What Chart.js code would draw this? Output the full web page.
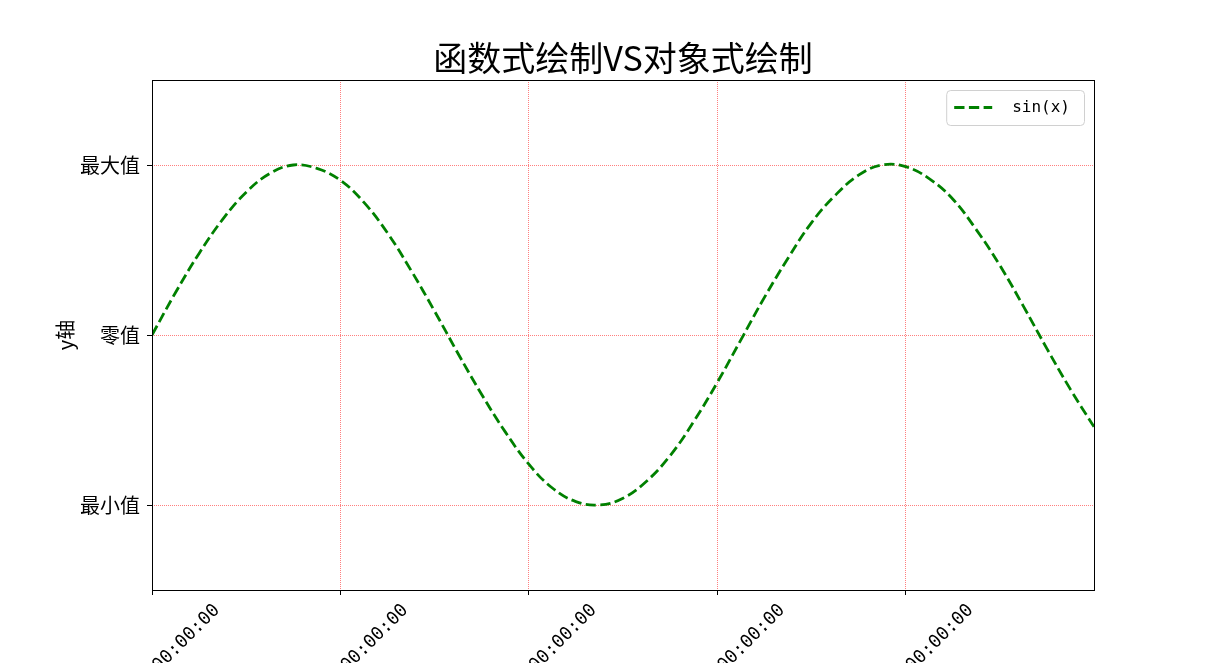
<!DOCTYPE html>
<html>
<head>
<meta charset="utf-8">
<script src="https://cdn.jsdelivr.net/npm/chart.js@4.4.0/dist/chart.umd.min.js"></script>
<style>
  html, body { margin: 0; padding: 0; background: #fff; }
  #wrap { width: 1216px; height: 663px; }
</style>
</head>
<body>
<div id="wrap"><canvas id="chart"></canvas></div>
<script>
const titleText = "函数式绘制VS对象式绘制";
const seriesLabel = "sin(x)";
const yAxisLabel = "y轴";

// values, every 0.25 on x
const xValues = [
  0, 0.25, 0.5, 0.75, 1, 1.25, 1.5, 1.75, 2, 2.25, 2.5, 2.75, 3, 3.25, 3.5, 3.75,
  4, 4.25, 4.5, 4.75, 5, 5.25, 5.5, 5.75, 6, 6.25, 6.5, 6.75, 7, 7.25, 7.5, 7.75,
  8, 8.25, 8.5, 8.75, 9, 9.25, 9.5, 9.75, 10
];
const yValues = [
  0, 0.25, 0.48, 0.68, 0.84, 0.95, 1.0, 0.98, 0.91, 0.78, 0.6, 0.38, 0.14, -0.11, -0.35, -0.57,
  -0.76, -0.9, -0.98, -1.0, -0.96, -0.86, -0.71, -0.51, -0.28, -0.03, 0.22, 0.45, 0.66, 0.82, 0.94, 1.0,
  0.99, 0.92, 0.8, 0.62, 0.41, 0.17, -0.08, -0.32, -0.54
];

const xTickValues = [0, 2, 4, 6, 8];
const xTickLabels = [
  "1970-01-01 00:00:00", "1970-01-03 00:00:00", "1970-01-05 00:00:00",
  "1970-01-07 00:00:00", "1970-01-09 00:00:00"
];
const yTickValues = [-1, 0, 1];
const yTickLabels = ["最小值", "零值", "最大值"];

const gridColor = "rgba(255,0,0,0.5)";

// spines, title and the in-plot legend
const decorations = {
  id: "decorations",
  afterDraw(chart) {
    const { ctx, chartArea: a } = chart;
    ctx.save();

    ctx.strokeStyle = "#000";
    ctx.lineWidth = 1;
    ctx.setLineDash([]);
    const l = Math.round(a.left) + 0.5, t = Math.round(a.top) + 0.5;
    const r = Math.round(a.right) + 0.5, b = Math.round(a.bottom) + 0.5;
    ctx.strokeRect(l, t, r - l, b - t);

    ctx.fillStyle = "#000";
    ctx.font = '34px "Noto Sans CJK SC"';
    ctx.textAlign = "center";
    ctx.textBaseline = "alphabetic";
    ctx.fillText(titleText, (a.left + a.right) / 2, 71);

    // legend
    const ds = chart.data.datasets[0];
    ctx.font = '16px "DejaVu Sans Mono"';
    const tw = ctx.measureText(ds.label).width;
    const w = 8 + 38 + 20 + tw + 14;
    const h = 35;
    const bx = a.right - 10 - w;
    const by = a.top + 10;
    ctx.beginPath();
    if (ctx.roundRect) ctx.roundRect(bx + 0.5, by + 0.5, w, h, 4);
    else ctx.rect(bx + 0.5, by + 0.5, w, h);
    ctx.fillStyle = "rgba(255,255,255,0.8)";
    ctx.fill();
    ctx.strokeStyle = "#d0d0d0";
    ctx.stroke();

    const ly = by + h / 2;
    ctx.beginPath();
    ctx.setLineDash(ds.borderDash);
    ctx.strokeStyle = ds.borderColor;
    ctx.lineWidth = ds.borderWidth;
    ctx.moveTo(bx + 8, ly);
    ctx.lineTo(bx + 8 + 38, ly);
    ctx.stroke();
    ctx.setLineDash([]);

    ctx.fillStyle = "#000";
    ctx.textAlign = "left";
    ctx.textBaseline = "middle";
    ctx.fillText(ds.label, bx + 8 + 38 + 20, ly);

    ctx.restore();
  }
};

new Chart(document.getElementById("chart"), {
  type: "line",
  data: {
    datasets: [{
      label: seriesLabel,
      data: xValues.map((x, i) => ({ x: x, y: yValues[i] })),
      borderColor: "#008000",
      borderWidth: 2.8,
      borderDash: [10.3, 4.4],
      pointRadius: 0,
      fill: false,
      tension: 0.4
    }]
  },
  options: {
    responsive: true,
    maintainAspectRatio: false,
    animation: false,
    layout: { padding: { top: 80, right: 122, left: 0, bottom: 0 } },
    plugins: {
      legend: { display: false },
      title: { display: false },
      tooltip: { enabled: false }
    },
    scales: {
      x: {
        type: "linear",
        min: 0,
        max: 10,
        afterBuildTicks: s => { s.ticks = xTickValues.map(v => ({ value: v })); },
        afterFit: s => { s.height = 73; s.paddingLeft = 0; s.paddingRight = 0; },
        ticks: {
          autoSkip: false,
          minRotation: 45,
          maxRotation: 45,
          labelOffset: 65,
          padding: 5,
          color: "#000",
          font: { family: "DejaVu Sans Mono", size: 18 },
          callback: v => {
            const i = xTickValues.indexOf(v);
            return i >= 0 ? xTickLabels[i] : "";
          }
        },
        grid: {
          color: gridColor,
          lineWidth: 1,
          tickColor: "#000",
          tickLength: 5,
          tickWidth: 1,
          tickBorderDash: []
        },
        border: { display: false, dash: [1, 1] }
      },
      y: {
        type: "linear",
        min: -1.5,
        max: 1.5,
        afterBuildTicks: s => { s.ticks = yTickValues.map(v => ({ value: v })); },
        afterFit: s => { s.width = 152; },
        ticks: {
          padding: 7,
          color: "#000",
          font: { family: "Noto Sans CJK SC", size: 20 },
          callback: v => {
            const i = yTickValues.indexOf(v);
            return i >= 0 ? yTickLabels[i] : "";
          }
        },
        title: {
          display: true,
          text: yAxisLabel,
          color: "#000",
          font: { family: "Noto Sans CJK SC", size: 20 },
          padding: { top: 53, bottom: 0 }
        },
        grid: {
          color: gridColor,
          lineWidth: 1,
          tickColor: "#000",
          tickLength: 5,
          tickWidth: 1,
          tickBorderDash: []
        },
        border: { display: false, dash: [1, 1] }
      }
    }
  },
  plugins: [decorations]
});
</script>
</body>
</html>
